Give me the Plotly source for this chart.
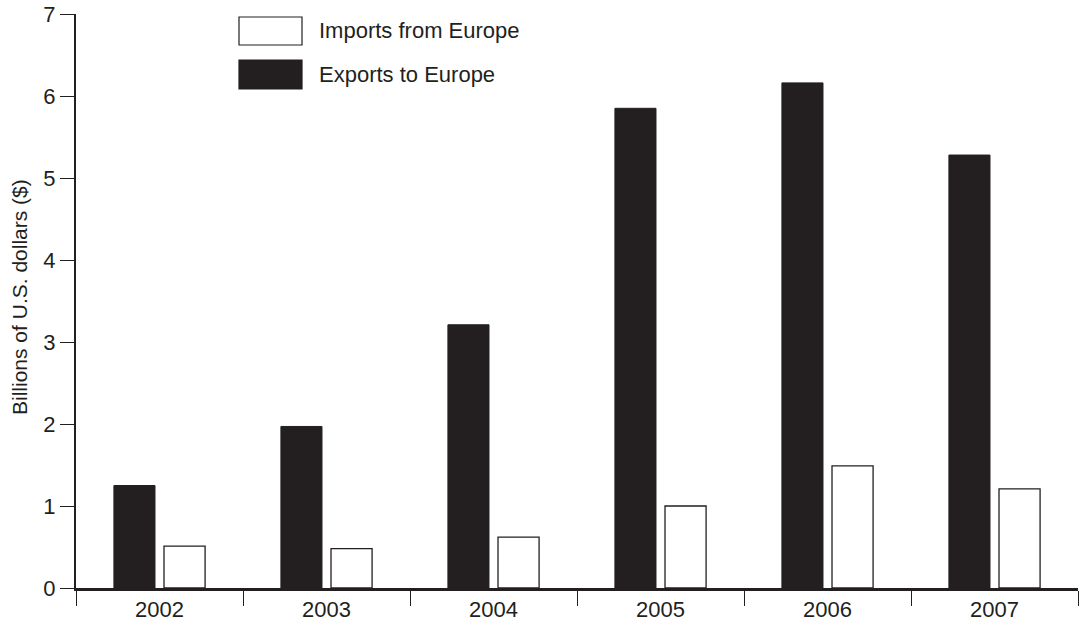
import plotly.graph_objects as go

years = ["2002", "2003", "2004", "2005", "2006", "2007"]
exports = [1.25, 1.97, 3.21, 5.85, 6.16, 5.28]
imports = [0.51, 0.48, 0.62, 1.00, 1.49, 1.21]
y_ticks = [0, 1, 2, 3, 4, 5, 6, 7]

INK = "#231f20"
FONT = "Liberation Sans, Arial, Helvetica, sans-serif"
FS = 22

fig = go.Figure()
fig.add_trace(go.Bar(x=years, y=exports, name="Exports to Europe",
                     marker=dict(color=INK, line=dict(color=INK, width=1)),
                     showlegend=False))
fig.add_trace(go.Bar(x=years, y=imports, name="Imports from Europe",
                     marker=dict(color="white", line=dict(color=INK, width=1.3)),
                     showlegend=False))

# custom legend (large swatches)
legend_items = [("Imports from Europe", "white"), ("Exports to Europe", INK)]
swatch_y = [(17, 45), (60, 89)]
for (label, fill), (y0, y1) in zip(legend_items, swatch_y):
    fig.add_shape(type="rect", xref="paper", yref="paper",
                  x0=(239 - 76) / 1002, x1=(302 - 76) / 1002,
                  y0=(588 - y1) / 574, y1=(588 - y0) / 574,
                  fillcolor=fill, line=dict(color=INK, width=1.2))
    fig.add_annotation(x=(317 - 76) / 1002, y=(588 - (y0 + y1) / 2) / 574,
                       xref="paper", yref="paper", text=label, showarrow=False,
                       xanchor="left", yanchor="middle",
                       font=dict(family=FONT, size=FS, color=INK))

# y-axis title
fig.add_annotation(x=(20 - 76) / 1002, y=(588 - 297) / 574, xref="paper", yref="paper",
                   text="Billions of U.S. dollars ($)", textangle=-90, showarrow=False,
                   xanchor="center", yanchor="middle",
                   font=dict(family=FONT, size=21, color=INK))

fig.update_layout(
    width=1079, height=630,
    margin=dict(l=76, r=1, t=14, b=42),
    paper_bgcolor="white", plot_bgcolor="white",
    barmode="group", bargap=0.40, bargroupgap=0.18,
    font=dict(family=FONT, size=FS, color=INK),
    hovermode=False,
    xaxis=dict(type="category", range=[-0.5, 5.5], showline=True, linecolor=INK,
               linewidth=2.5, ticks="outside", tickson="boundaries", ticklen=15,
               tickwidth=1, tickcolor=INK, showgrid=False, zeroline=False,
               automargin=False, ticklabeloverflow="allow",
               tickfont=dict(family=FONT, size=FS, color=INK)),
    yaxis=dict(range=[0, 7], tickvals=y_ticks, showline=True, linecolor=INK,
               linewidth=2, ticks="outside", ticklen=14, tickwidth=1, tickcolor=INK,
               showgrid=False, zeroline=False, automargin=False,
               ticklabeloverflow="allow",
               tickfont=dict(family=FONT, size=FS, color=INK)),
)

fig.write_html("out.html", config={"displayModeBar": False, "staticPlot": True},
               post_script="document.body.style.margin='0';document.body.style.overflow='hidden';")
